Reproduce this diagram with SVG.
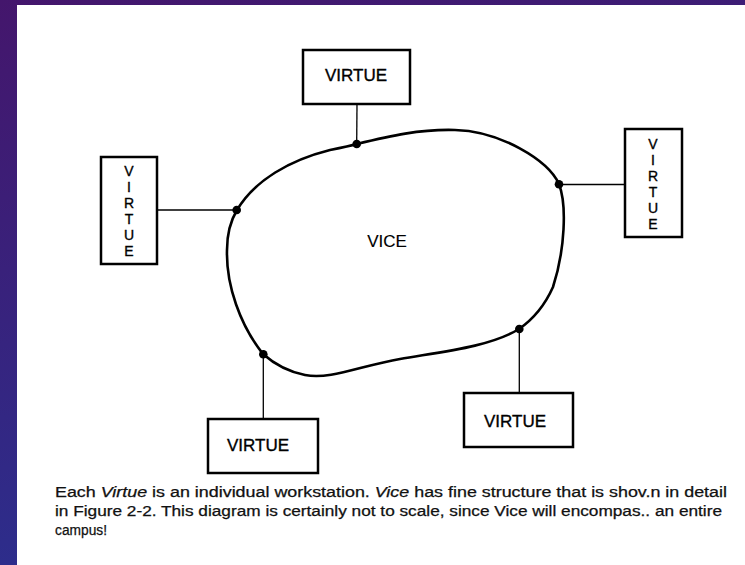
<svg xmlns="http://www.w3.org/2000/svg" width="745" height="565" viewBox="0 0 745 565">
<defs>
<linearGradient id="bg" x1="0" y1="0" x2="0.3" y2="1">
<stop offset="0" stop-color="#44166c"/>
<stop offset="1" stop-color="#2b2f8e"/>
</linearGradient>
</defs>
<style>
.box{fill:#fff;stroke:#000;stroke-width:2.5}
.lbl{font-family:"Liberation Sans",Arial,sans-serif;font-size:17px;fill:#000;stroke:#000;stroke-width:0.35;text-anchor:middle}
.vl{font-family:"Liberation Sans",Arial,sans-serif;font-size:14px;fill:#000;stroke:#000;stroke-width:0.35;text-anchor:middle}
.link{stroke:#000;stroke-width:1.3;fill:none}
.dot{fill:#000}
.cap{font-family:"Liberation Sans",Arial,sans-serif;font-size:14px;fill:#111;stroke:#111;stroke-width:0.25}
</style>
<rect x="0" y="0" width="745" height="565" fill="url(#bg)"/>
<rect x="17" y="5" width="728" height="560" fill="#fff"/>

<g id="connectors">
<line class="link" x1="357" y1="104" x2="356.7" y2="144"/>
<line class="link" x1="157" y1="210" x2="236.7" y2="210"/>
<line class="link" x1="559" y1="184.5" x2="625" y2="184.5"/>
<line class="link" x1="263.3" y1="354" x2="263.3" y2="419"/>
<line class="link" x1="519.3" y1="329" x2="519.3" y2="393"/>
</g>

<g id="vice">
<path d="M356.7,144 C390,136 420,129 455,130 C500,131 548,160 559,184 C567,205 565,250 553,287 C545,305 532,320 519,329 C490,347 440,352 400,359 C360,366 330,380 305,375 C285,371 272,362 263,354 C240,325 226,285 227,250 C227,235 231,220 237,210 C255,180 290,160 330,150 C340,148 350,146 356.7,144 Z" fill="none" stroke="#000" stroke-width="2.6"/>
<text class="lbl" x="387" y="246.5" style="stroke-width:0.15">VICE</text>
<circle class="dot" cx="356.7" cy="144" r="4.3"/>
<circle class="dot" cx="559" cy="184.3" r="4.3"/>
<circle class="dot" cx="236.7" cy="210" r="4.3"/>
<circle class="dot" cx="263.3" cy="354.3" r="4.3"/>
<circle class="dot" cx="519.3" cy="329" r="4.3"/>
</g>

<g id="virtue-top">
<rect class="box" x="303" y="50" width="107" height="54"/>
<text class="lbl" x="356" y="80.5">VIRTUE</text>
</g>

<g id="virtue-left">
<rect class="box" x="101" y="157" width="56" height="107"/>
<text class="vl" x="129" y="176">V</text>
<text class="vl" x="129" y="192">I</text>
<text class="vl" x="129" y="208">R</text>
<text class="vl" x="129" y="224">T</text>
<text class="vl" x="129" y="240">U</text>
<text class="vl" x="129" y="256">E</text>
</g>

<g id="virtue-right">
<rect class="box" x="625" y="129" width="57" height="108"/>
<text class="vl" x="653" y="149">V</text>
<text class="vl" x="653" y="165">I</text>
<text class="vl" x="653" y="181">R</text>
<text class="vl" x="653" y="197">T</text>
<text class="vl" x="653" y="213">U</text>
<text class="vl" x="653" y="229">E</text>
</g>

<g id="virtue-lower-left">
<rect class="box" x="208" y="419" width="110" height="54"/>
<text class="lbl" x="258" y="451">VIRTUE</text>
</g>

<g id="virtue-lower-right">
<rect class="box" x="464" y="393" width="109" height="54"/>
<text class="lbl" x="515" y="427">VIRTUE</text>
</g>

<g id="caption">
<text class="cap" x="55" y="497" textLength="672" lengthAdjust="spacingAndGlyphs">Each <tspan font-style="italic">Virtue</tspan> is an individual workstation.  <tspan font-style="italic">Vice</tspan> has fine structure that is shov.n in detail</text>
<text class="cap" x="55" y="516" textLength="667" lengthAdjust="spacingAndGlyphs">in Figure 2-2.  This diagram is certainly not to scale, since Vice will encompas.. an entire</text>
<text class="cap" x="55" y="535" textLength="52" lengthAdjust="spacingAndGlyphs">campus!</text>
</g>
</svg>
